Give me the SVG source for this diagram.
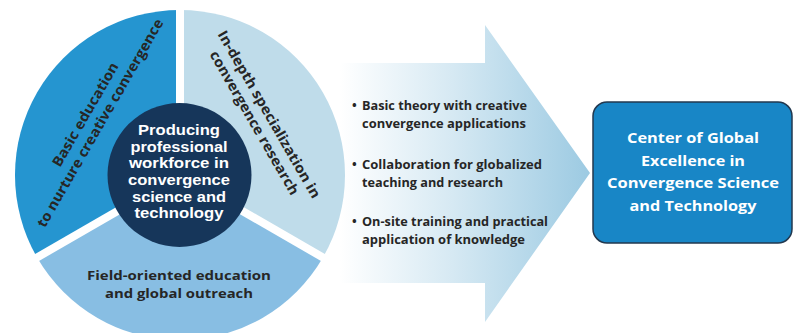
<svg xmlns="http://www.w3.org/2000/svg" width="796" height="333" viewBox="0 0 796 333">
  <defs>
    <linearGradient id="arrowGrad" gradientUnits="userSpaceOnUse" x1="340" y1="0" x2="590" y2="0">
      <stop offset="0" stop-color="#ffffff"/>
      <stop offset="0.45" stop-color="#d6e9f3"/>
      <stop offset="1" stop-color="#9ccae2"/>
    </linearGradient>
  </defs>
  <style>
    text { font-family: "Open Sans", "Liberation Sans", sans-serif; font-weight: 700; }
    .dark { fill: #262626; }
    .white { fill: #ffffff; }
    .sec { font-size: 14px; }
    .btm { font-size: 13.2px; }
    .inner { font-size: 14.5px; }
    .inner text { font-family: "Liberation Sans", Arial, sans-serif; }
    .bul { font-size: 12.5px; }
    .box { font-size: 15px; }
    .gap { stroke: #ffffff; stroke-width: 8; }
  </style>
  <rect x="0" y="0" width="796" height="333" fill="#ffffff"/>

  <g id="arrow">
    <polygon points="335,63 485,63 485,25 590,173 485,322 485,283 335,283" fill="url(#arrowGrad)"/>
    <g class="dark bul">
      <text x="352" y="110">•</text>
      <text x="362" y="110" textLength="165" lengthAdjust="spacingAndGlyphs">Basic theory with creative</text>
      <text x="362" y="127.5" textLength="164" lengthAdjust="spacingAndGlyphs">convergence applications</text>
      <text x="352" y="169">•</text>
      <text x="362" y="169" textLength="180" lengthAdjust="spacingAndGlyphs">Collaboration for globalized</text>
      <text x="362" y="186.5" textLength="141" lengthAdjust="spacingAndGlyphs">teaching and research</text>
      <text x="352" y="226">•</text>
      <text x="362" y="226" textLength="186" lengthAdjust="spacingAndGlyphs">On-site training and practical</text>
      <text x="362" y="243.5" textLength="163" lengthAdjust="spacingAndGlyphs">application of knowledge</text>
    </g>
  </g>

  <g id="sector-basic">
    <path d="M180,175 L180,10 A165,165 0 0 0 37.1,257.5 Z" fill="#2595d0"/>
    <g transform="translate(93,119) rotate(-60)" class="dark sec" text-anchor="middle">
      <text x="0" y="-4" textLength="118" lengthAdjust="spacingAndGlyphs">Basic education</text>
      <text x="0" y="13" textLength="238" lengthAdjust="spacingAndGlyphs">to nurture creative convergence</text>
    </g>
  </g>

  <g id="sector-indepth">
    <path d="M180,175 L180,10 A165,165 0 0 1 322.9,257.5 Z" fill="#bfdcea"/>
    <g transform="translate(261,119) rotate(60)" class="dark sec" text-anchor="middle">
      <text x="0" y="-4.5" textLength="191" lengthAdjust="spacingAndGlyphs">In-depth specialization in</text>
      <text x="0" y="12.5" textLength="164" lengthAdjust="spacingAndGlyphs">convergence research</text>
    </g>
  </g>

  <g id="sector-field">
    <path d="M180,175 L37.1,257.5 A165,165 0 0 0 322.9,257.5 Z" fill="#88bee3"/>
    <g class="dark btm" text-anchor="middle">
      <text x="179" y="279.5" textLength="184" lengthAdjust="spacingAndGlyphs">Field-oriented education</text>
      <text x="179" y="297.5" textLength="148" lengthAdjust="spacingAndGlyphs">and global outreach</text>
    </g>
  </g>

  <g id="gaps">
    <line class="gap" x1="180" y1="175" x2="180" y2="0"/>
    <line class="gap" x1="180" y1="175" x2="30.1" y2="261.5"/>
    <line class="gap" x1="180" y1="175" x2="329.9" y2="261.5"/>
  </g>

  <g id="center">
    <circle cx="179.5" cy="175" r="72" fill="#16365a"/>
    <g class="white inner" text-anchor="middle">
      <text x="179" y="135" textLength="82" lengthAdjust="spacingAndGlyphs">Producing</text>
      <text x="179" y="151.7" textLength="97" lengthAdjust="spacingAndGlyphs">professional</text>
      <text x="179" y="168.3" textLength="100" lengthAdjust="spacingAndGlyphs">workforce in</text>
      <text x="179" y="185" textLength="102" lengthAdjust="spacingAndGlyphs">convergence</text>
      <text x="179" y="201.7" textLength="94" lengthAdjust="spacingAndGlyphs">science and</text>
      <text x="179" y="218.3" textLength="89" lengthAdjust="spacingAndGlyphs">technology</text>
    </g>
  </g>

  <g id="goal">
    <rect x="593" y="102" width="199" height="141" rx="14" ry="14" fill="#1886c6" stroke="#22384f" stroke-width="1.5"/>
    <g class="white box" text-anchor="middle">
      <text x="693" y="143.3" textLength="132" lengthAdjust="spacingAndGlyphs">Center of Global</text>
      <text x="693" y="166" textLength="104" lengthAdjust="spacingAndGlyphs">Excellence in</text>
      <text x="693" y="188.3" textLength="172" lengthAdjust="spacingAndGlyphs">Convergence Science</text>
      <text x="693" y="210.7" textLength="127" lengthAdjust="spacingAndGlyphs">and Technology</text>
    </g>
  </g>
</svg>
